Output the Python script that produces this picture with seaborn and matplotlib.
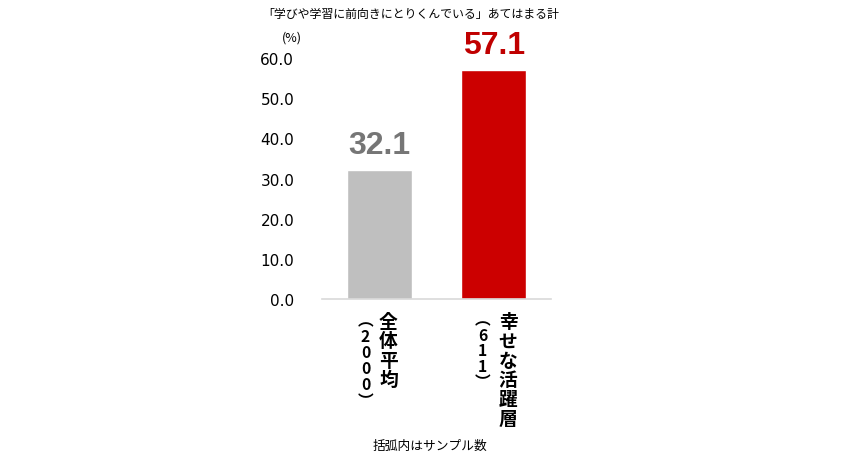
import matplotlib
matplotlib.use("Agg")
import matplotlib.pyplot as plt
import matplotlib.transforms as mtransforms
import seaborn as sns
import pandas as pd

categories = ["全体平均", "幸せな活躍層"]
samples = ["2000", "611"]
values = [32.1, 57.1]
bar_colors = ["#BFBFBF", "#CC0000"]
label_colors = ["#767676", "#C00000"]
yticks = [0, 10, 20, 30, 40, 50, 60]
title = "「学びや学習に前向きにとりくんでいる」あてはまる計"
footer = "括弧内はサンプル数"

sns.set_theme(style="white")
plt.rcParams['font.family'] = ['Noto Sans CJK JP', 'DejaVu Sans']

W, H = 865, 460
fig = plt.figure(figsize=(W / 100, H / 100), dpi=100)
ax = fig.add_axes([322 / W, 1 - 300 / H, 229 / W, 241 / H])

df = pd.DataFrame({"cat": categories, "val": values})
sns.barplot(data=df, x="cat", y="val", hue="cat", palette=bar_colors,
            width=0.565, legend=False, ax=ax, saturation=1)

ax.set_xlim(-0.5, 1.5)
ax.set_ylim(0, 60)
ax.set_yticks(yticks)
ax.set_yticklabels([f"{v:.1f}" for v in yticks], fontsize=11, color="#000000",
                   family=['DejaVu Sans'])
ax.tick_params(axis="y", length=0, pad=20)
ax.set_xticks([])
ax.set_xlabel("")
ax.set_ylabel("")
for s in ["top", "right", "left"]:
    ax.spines[s].set_visible(False)
ax.spines["bottom"].set_color("#D9D9D9")
ax.spines["bottom"].set_linewidth(1.2)

# value labels
for i, (v, c) in enumerate(zip(values, label_colors)):
    ax.text(i, v + 2.4, f"{v:.1f}", ha="center", va="bottom", fontsize=23,
            fontweight="bold", color=c, family=['Liberation Sans'])

# vertical category labels (stacked characters)
trans = mtransforms.blended_transform_factory(ax.transData, fig.transFigure)
main_off = [0.08, 0.125]
par_off = [-0.12, -0.095]
main_step = 19.3
par_step = [16.0, 15.4]
ytop = 313
for i, (cat, smp) in enumerate(zip(categories, samples)):
    for k, ch in enumerate(cat):
        yc = ytop + main_step * (k + 0.5)
        ax.text(i + main_off[i], 1 - yc / H, ch, transform=trans, ha="center",
                va="center", fontsize=13.5, fontweight="bold", color="#000000")
    glyphs = ["︵"] + list(smp) + ["︶"]
    for k, ch in enumerate(glyphs):
        yc = ytop + par_step[i] * (k + 0.5)
        ax.text(i + par_off[i], 1 - yc / H, ch, transform=trans, ha="center",
                va="center", fontsize=11.3, fontweight="bold", color="#000000")

fig.text(411 / W, 1 - 14 / H, title, ha="center", va="center", fontsize=8.6,
         color="#000000")
fig.text(430 / W, 1 - 446 / H, footer, ha="center", va="center", fontsize=9.2,
         color="#000000")
fig.text(292 / W, 1 - 38 / H, "(%)", ha="center", va="center", fontsize=9,
         color="#000000")

fig.savefig("out.png", dpi=100, facecolor="white")
